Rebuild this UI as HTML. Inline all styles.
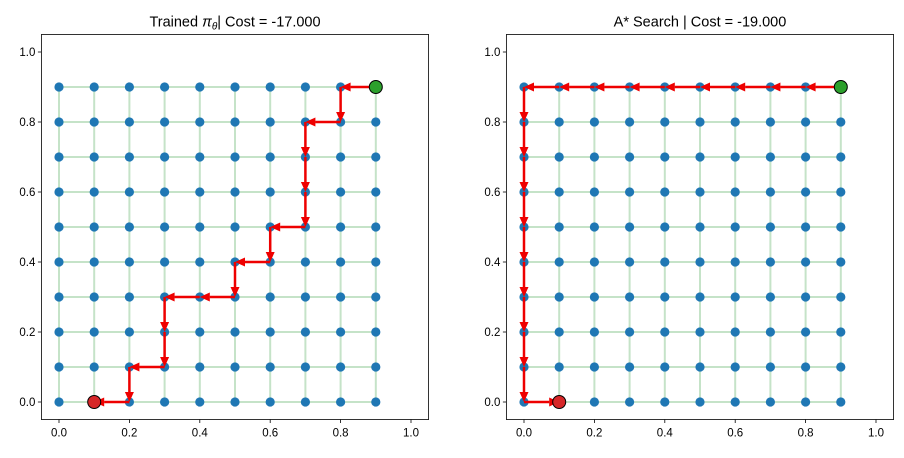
<!DOCTYPE html>
<html><head><meta charset="utf-8"><style>
body{margin:0;background:#fff}
svg text{font-family:"Liberation Sans","DejaVu Sans",sans-serif}
</style></head><body>
<svg id="c" width="904" height="453" xmlns="http://www.w3.org/2000/svg"></svg>
<script>
const ticks = [0.0, 0.2, 0.4, 0.6, 0.8, 1.0];
const gridVals = [0,0.1,0.2,0.3,0.4,0.5,0.6,0.7,0.8,0.9];
const pathTrained = [[0.9,0.9],[0.8,0.9],[0.8,0.8],[0.7,0.8],[0.7,0.7],[0.7,0.6],[0.7,0.5],[0.6,0.5],[0.6,0.4],[0.5,0.4],[0.5,0.3],[0.4,0.3],[0.3,0.3],[0.3,0.2],[0.3,0.1],[0.2,0.1],[0.2,0.0],[0.1,0.0]];
const pathAstar = [[0.9,0.9],[0.8,0.9],[0.7,0.9],[0.6,0.9],[0.5,0.9],[0.4,0.9],[0.3,0.9],[0.2,0.9],[0.1,0.9],[0.0,0.9],[0.0,0.8],[0.0,0.7],[0.0,0.6],[0.0,0.5],[0.0,0.4],[0.0,0.3],[0.0,0.2],[0.0,0.1],[0.0,0.0],[0.1,0.0]];
const titles = ["Trained π\u03B8| Cost = -17.000","A* Search | Cost = -19.000"];
const svg=document.getElementById('c');
const NS="http://www.w3.org/2000/svg";
function mk(t,a,p){const e=document.createElementNS(NS,t);for(const k in a)e.setAttribute(k,a[k]);(p||svg).appendChild(e);return e;}
function panel(idx,x0,path){
  const L=x0,R=x0+387.2,T=34.5,B=419.5;
  const sx=v=>L+(v+0.05)/1.1*(R-L), sy=v=>B-(v+0.05)/1.1*(B-T);
  const g=mk('g',{});
  
  
  // grid
  gridVals.forEach(v=>{
    mk('line',{x1:sx(0),x2:sx(0.9),y1:sy(v),y2:sy(v),stroke:'#c5e3c8','stroke-width':2},g);
    mk('line',{y1:sy(0),y2:sy(0.9),x1:sx(v),x2:sx(v),stroke:'#c5e3c8','stroke-width':2},g);
  });
  gridVals.forEach(a=>gridVals.forEach(b=>{
    const c=mk('circle',{cx:sx(a),cy:sy(b),r:4.6,fill:'#1f77b4'},g);
    
    
  }));
  // path arrows
  for(let i=0;i<path.length-1;i++){
    const x1=sx(path[i][0]),y1=sy(path[i][1]),x2=sx(path[i+1][0]),y2=sy(path[i+1][1]);
    const dx=x2-x1,dy=y2-y1,len=Math.hypot(dx,dy),ux=dx/len,uy=dy/len;
    const hl=10,hw=4.5;
    const bx=x2-ux*hl,by=y2-uy*hl;
    const ln=mk('line',{x1:x1,y1:y1,x2:bx,y2:by,stroke:'#ee0000','stroke-width':2.5},g);
    
    
    mk('polygon',{points:`${x2},${y2} ${bx-uy*hw},${by+ux*hw} ${bx+uy*hw},${by-ux*hw}`,fill:'#ee0000'},g);
  }
  const s=path[0],e=path[path.length-1];
  const st=mk('circle',{cx:sx(s[0]),cy:sy(s[1]),r:6.5,fill:'#2ca02c',stroke:'#000','stroke-width':1},g);
  
  
  const en=mk('circle',{cx:sx(e[0]),cy:sy(e[1]),r:6.5,fill:'#d62728',stroke:'#000','stroke-width':1},g);
  
  
  // frame
  mk('rect',{x:L,y:T,width:R-L,height:B-T,fill:'none',stroke:'#000','stroke-width':0.8},g);
  ticks.forEach(v=>{
    mk('line',{x1:sx(v),x2:sx(v),y1:B,y2:B+3.5,stroke:'#000','stroke-width':0.8},g);
    const tx=mk('text',{x:sx(v),y:B+17,'text-anchor':'middle','font-size':11.5,fill:'#000'},g);
    tx.textContent=v.toFixed(1);
    
    
    mk('line',{x1:L-3.5,x2:L,y1:sy(v),y2:sy(v),stroke:'#000','stroke-width':0.8},g);
    const ty=mk('text',{x:L-6,y:sy(v)+4,'text-anchor':'end','font-size':11.5,fill:'#000'},g);
    ty.textContent=v.toFixed(1);
    
    
  });
  const t=mk('text',{x:(L+R)/2,y:T-8,'text-anchor':'middle','font-size':14.5,fill:'#000'},g);
  if(idx===0){
    t.innerHTML='Trained <tspan font-style="italic">π</tspan><tspan font-style="italic" font-size="10" dy="3">θ</tspan><tspan dy="-3">| Cost = -17.000</tspan>';
  } else t.textContent=titles[1];
  
  
}
panel(0,41.4,pathTrained);
panel(1,506.4,pathAstar);
</script>
</body></html>
